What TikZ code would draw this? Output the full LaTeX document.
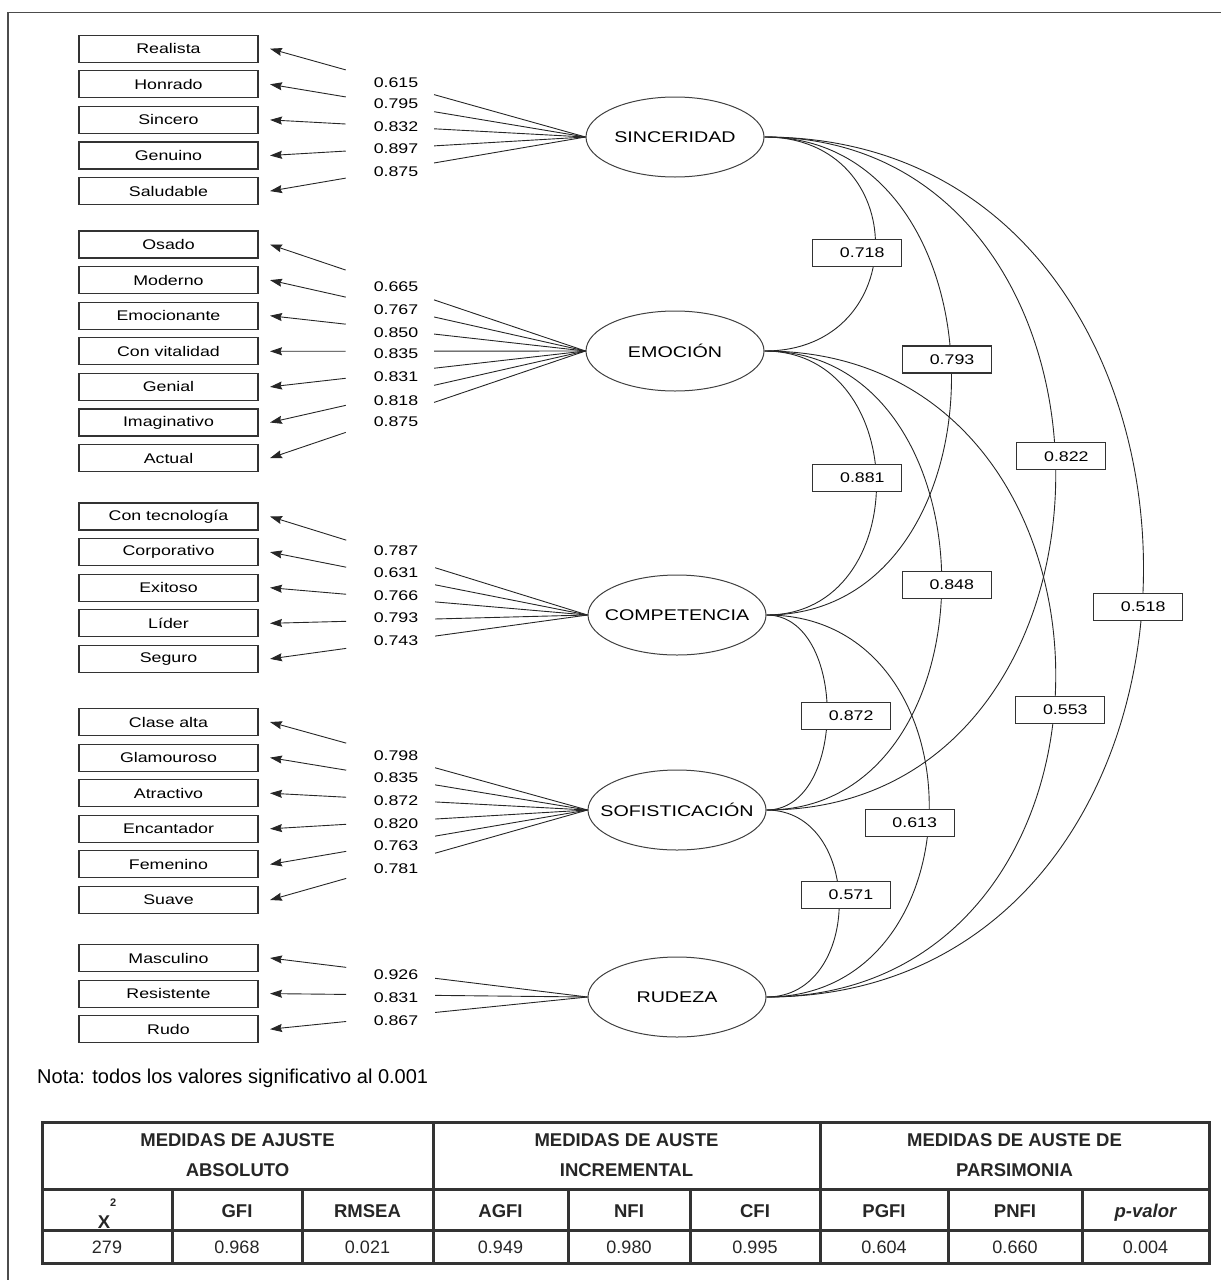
\documentclass[tikz,border=0pt]{standalone}
\usepackage{fontspec}
\setmainfont{Liberation Sans}
\newfontfamily\widesf{Liberation Sans}[FakeStretch=1.27]
\usetikzlibrary{positioning,arrows.meta,shapes.geometric,calc}

\begin{document}
\begin{tikzpicture}[x=1pt,y=-1pt,node distance=7.5pt,
  item/.style={rectangle,draw=black!80,line width=1.1pt,minimum width=179pt,minimum height=27pt,inner sep=0pt,outer xsep=12pt,font=\widesf\fontsize{14}{16}\selectfont},
  lat/.style={ellipse,draw=black!75,line width=1pt,minimum width=178pt,minimum height=80pt,inner sep=0pt,font=\widesf\fontsize{15.5}{18}\selectfont},
  lval/.style={inner sep=0pt,font=\widesf\fontsize{14}{16}\selectfont},
  corr/.style={rectangle,draw=black!80,fill=white,line width=1.1pt,minimum width=89pt,minimum height=27pt,inner sep=0pt,
    execute at begin node={\hspace*{10pt}},font=\widesf\fontsize{14}{16}\selectfont},
  ld/.style={line width=0.9pt,draw=black!85,-{Stealth[length=12pt,width=8pt,inset=1.5pt]},
    to path={-- ($(\tikztostart)!.48!(\tikztotarget)$) ($(\tikztostart)!.76!(\tikztotarget)$) -- (\tikztotarget)}},
  cov/.style={line width=0.9pt,draw=black!85},
  tab/.style={line width=3pt,draw=black!80},
  th/.style={inner sep=0pt,align=center,text=black!85,font=\bfseries\fontsize{18.5}{30}\selectfont},
  td/.style={inner sep=0pt,anchor=base,text=black!85,font=\fontsize{18}{20}\selectfont}]
  \useasboundingbox (0,0) rectangle (1221,1280);
  \draw[line width=1.5pt,black!70] (8,1280) -- (8,12.5) -- (1221,12.5);

  % factores
  \node[lat] (S) at (675,137) {\makebox[0pt]{SINCERIDAD}};
  \node[lat] (E) at (675,351) {\makebox[0pt]{EMOCIÓN}};
  \node[lat] (C) at (677,615) {\makebox[0pt]{COMPETENCIA}};
  \node[lat] (F) at (677,810) {\makebox[0pt]{SOFISTICACIÓN}};
  \node[lat] (R) at (677,997) {\makebox[0pt]{RUDEZA}};

  % items
  \node[item] (s1) at (168.5,48.7) {Realista};
  \node[item,below=of s1] (s2) {Honrado};
  \node[item,below=of s2] (s3) {Sincero};
  \node[item,below=of s3] (s4) {Genuino};
  \node[item,below=of s4] (s5) {Saludable};
  \node[item] (e1) at (168.5,244.5) {Osado};
  \node[item,below=of e1] (e2) {Moderno};
  \node[item,below=of e2] (e3) {Emocionante};
  \node[item,below=of e3] (e4) {Con vitalidad};
  \node[item,below=of e4] (e5) {Genial};
  \node[item,below=of e5] (e6) {Imaginativo};
  \node[item,below=of e6] (e7) {Actual};
  \node[item] (c1) at (168.5,516.5) {Con tecnología};
  \node[item,below=of c1] (c2) {Corporativo};
  \node[item,below=of c2] (c3) {Exitoso};
  \node[item,below=of c3] (c4) {Líder};
  \node[item,below=of c4] (c5) {Seguro};
  \node[item] (f1) at (168.5,722) {Clase alta};
  \node[item,below=of f1] (f2) {Glamouroso};
  \node[item,below=of f2] (f3) {Atractivo};
  \node[item,below=of f3] (f4) {Encantador};
  \node[item,below=of f4] (f5) {Femenino};
  \node[item,below=of f5] (f6) {Suave};
  \node[item] (r1) at (168.5,958) {Masculino};
  \node[item,below=of r1] (r2) {Resistente};
  \node[item,below=of r2] (r3) {Rudo};

  % cargas
  \draw[ld] (S.west) to (s1.east); \draw[ld] (S.west) to (s2.east); \draw[ld] (S.west) to (s3.east);
  \draw[ld] (S.west) to (s4.east); \draw[ld] (S.west) to (s5.east);
  \draw[ld] (E.west) to (e1.east); \draw[ld] (E.west) to (e2.east); \draw[ld] (E.west) to (e3.east);
  \draw[ld] (E.west) to (e4.east); \draw[ld] (E.west) to (e5.east); \draw[ld] (E.west) to (e6.east);
  \draw[ld] (E.west) to (e7.east);
  \draw[ld] (C.west) to (c1.east); \draw[ld] (C.west) to (c2.east); \draw[ld] (C.west) to (c3.east);
  \draw[ld] (C.west) to (c4.east); \draw[ld] (C.west) to (c5.east);
  \draw[ld] (F.west) to (f1.east); \draw[ld] (F.west) to (f2.east); \draw[ld] (F.west) to (f3.east);
  \draw[ld] (F.west) to (f4.east); \draw[ld] (F.west) to (f5.east); \draw[ld] (F.west) to (f6.east);
  \draw[ld] (R.west) to (r1.east); \draw[ld] (R.west) to (r2.east); \draw[ld] (R.west) to (r3.east);

  \node[lval] (ls1) at (396,83) {0.615}; \node[lval] (ls2) at (396,104) {0.795};
  \node[lval] (ls3) at (396,127) {0.832}; \node[lval] (ls4) at (396,149) {0.897};
  \node[lval] (ls5) at (396,172) {0.875};
  \node[lval] (le1) at (396,287) {0.665}; \node[lval] (le2) at (396,310) {0.767};
  \node[lval] (le3) at (396,333) {0.850}; \node[lval] (le4) at (396,354) {0.835};
  \node[lval] (le5) at (396,377) {0.831}; \node[lval] (le6) at (396,401) {0.818};
  \node[lval] (le7) at (396,422) {0.875};
  \node[lval] (lc1) at (396,551) {0.787}; \node[lval] (lc2) at (396,573) {0.631};
  \node[lval] (lc3) at (396,596) {0.766}; \node[lval] (lc4) at (396,618) {0.793};
  \node[lval] (lc5) at (396,641) {0.743};
  \node[lval] (lf1) at (396,756) {0.798}; \node[lval] (lf2) at (396,778) {0.835};
  \node[lval] (lf3) at (396,801) {0.872}; \node[lval] (lf4) at (396,824) {0.820};
  \node[lval] (lf5) at (396,846) {0.763}; \node[lval] (lf6) at (396,869) {0.781};
  \node[lval] (lr1) at (396,975) {0.926}; \node[lval] (lr2) at (396,998) {0.831};
  \node[lval] (lr3) at (396,1021) {0.867};

  % correlaciones
  \draw[cov] (S.east) .. controls +(148,0) and +(148,0) .. (E.east) node[corr,pos=.527,xshift=-18pt] (kSE) {0.718};
  \draw[cov] (S.east) .. controls +(248,0) and +(248,0) .. (C.east) node[corr,pos=.477,xshift=-4pt] (kSC) {0.793};
  \draw[cov] (S.east) .. controls +(387,0) and +(387,0) .. (F.east) node[corr,pos=.483,xshift=6pt] (kSF) {0.822};
  \draw[cov] (S.east) .. controls +(504,0) and +(504,0) .. (R.east) node[corr,pos=.531,xshift=-4pt] (kSR) {0.518};
  \draw[cov] (E.east) .. controls +(148,0) and +(148,0) .. (C.east) node[corr,pos=.487,xshift=-19pt] (kEC) {0.881};
  \draw[cov] (E.east) .. controls +(235,0) and +(235,0) .. (F.east) node[corr,pos=.506,xshift=5pt] (kEF) {0.848};
  \draw[cov] (E.east) .. controls +(387,0) and +(387,0) .. (R.east) node[corr,pos=.537,xshift=6pt] (kER) {0.553};
  \draw[cov] (C.east) .. controls +(81,0) and +(81,0) .. (F.east) node[corr,pos=.512,xshift=19pt] (kCF) {0.872};
  \draw[cov] (C.east) .. controls +(217,0) and +(217,0) .. (R.east) node[corr,pos=.53,xshift=-19pt] (kCR) {0.613};
  \draw[cov] (F.east) .. controls +(97,0) and +(97,0) .. (R.east) node[corr,pos=.469,xshift=7pt] (kFR) {0.571};

  \node[anchor=west,inner sep=0pt,font=\fontsize{20}{22}\selectfont] (nota) at (37,1078) {Nota: todos los valores significativo al 0.001};

  % tabla de ajuste
  \draw[tab] (42,1122) rectangle (1209,1263);
  \draw[tab] (42,1189) -- (1209,1189) (42,1230) -- (1209,1230);
  \draw[tab] (433,1122) -- (433,1263) (820,1122) -- (820,1263);
  \draw[tab] (172,1189) -- (172,1263) (302,1189) -- (302,1263) (568,1189) -- (568,1263);
  \draw[tab] (690,1189) -- (690,1263) (948,1189) -- (948,1263) (1082,1189) -- (1082,1263);
  \node[th] (h1) at (237.5,1155) {MEDIDAS DE AJUSTE\\ABSOLUTO};
  \node[th] (h2) at (626.5,1155) {MEDIDAS DE AUSTE\\INCREMENTAL};
  \node[th] (h3) at (1014.5,1155) {MEDIDAS DE AUSTE DE\\PARSIMONIA};
  \node[th,anchor=base] (chi) at (107,1228) {X\raisebox{22pt}{\fontsize{11}{12}\selectfont 2}};
  \node[th,anchor=base] (gfi) at (237,1217) {GFI};
  \node[th,anchor=base] (rmsea) at (367.5,1217) {RMSEA};
  \node[th,anchor=base] (agfi) at (500.5,1217) {AGFI};
  \node[th,anchor=base] (nfi) at (629,1217) {NFI};
  \node[th,anchor=base] (cfi) at (755,1217) {CFI};
  \node[th,anchor=base] (pgfi) at (884,1217) {PGFI};
  \node[th,anchor=base] (pnfi) at (1015,1217) {PNFI};
  \node[th,anchor=base] (pval) at (1145.5,1217) {\itshape p-valor};
  \node[td] (v1) at (107,1253.5) {279};
  \node[td] (v2) at (237,1253.5) {0.968};
  \node[td] (v3) at (367.5,1253.5) {0.021};
  \node[td] (v4) at (500.5,1253.5) {0.949};
  \node[td] (v5) at (629,1253.5) {0.980};
  \node[td] (v6) at (755,1253.5) {0.995};
  \node[td] (v7) at (884,1253.5) {0.604};
  \node[td] (v8) at (1015,1253.5) {0.660};
  \node[td] (v9) at (1145.5,1253.5) {0.004};
\end{tikzpicture}
\end{document}
